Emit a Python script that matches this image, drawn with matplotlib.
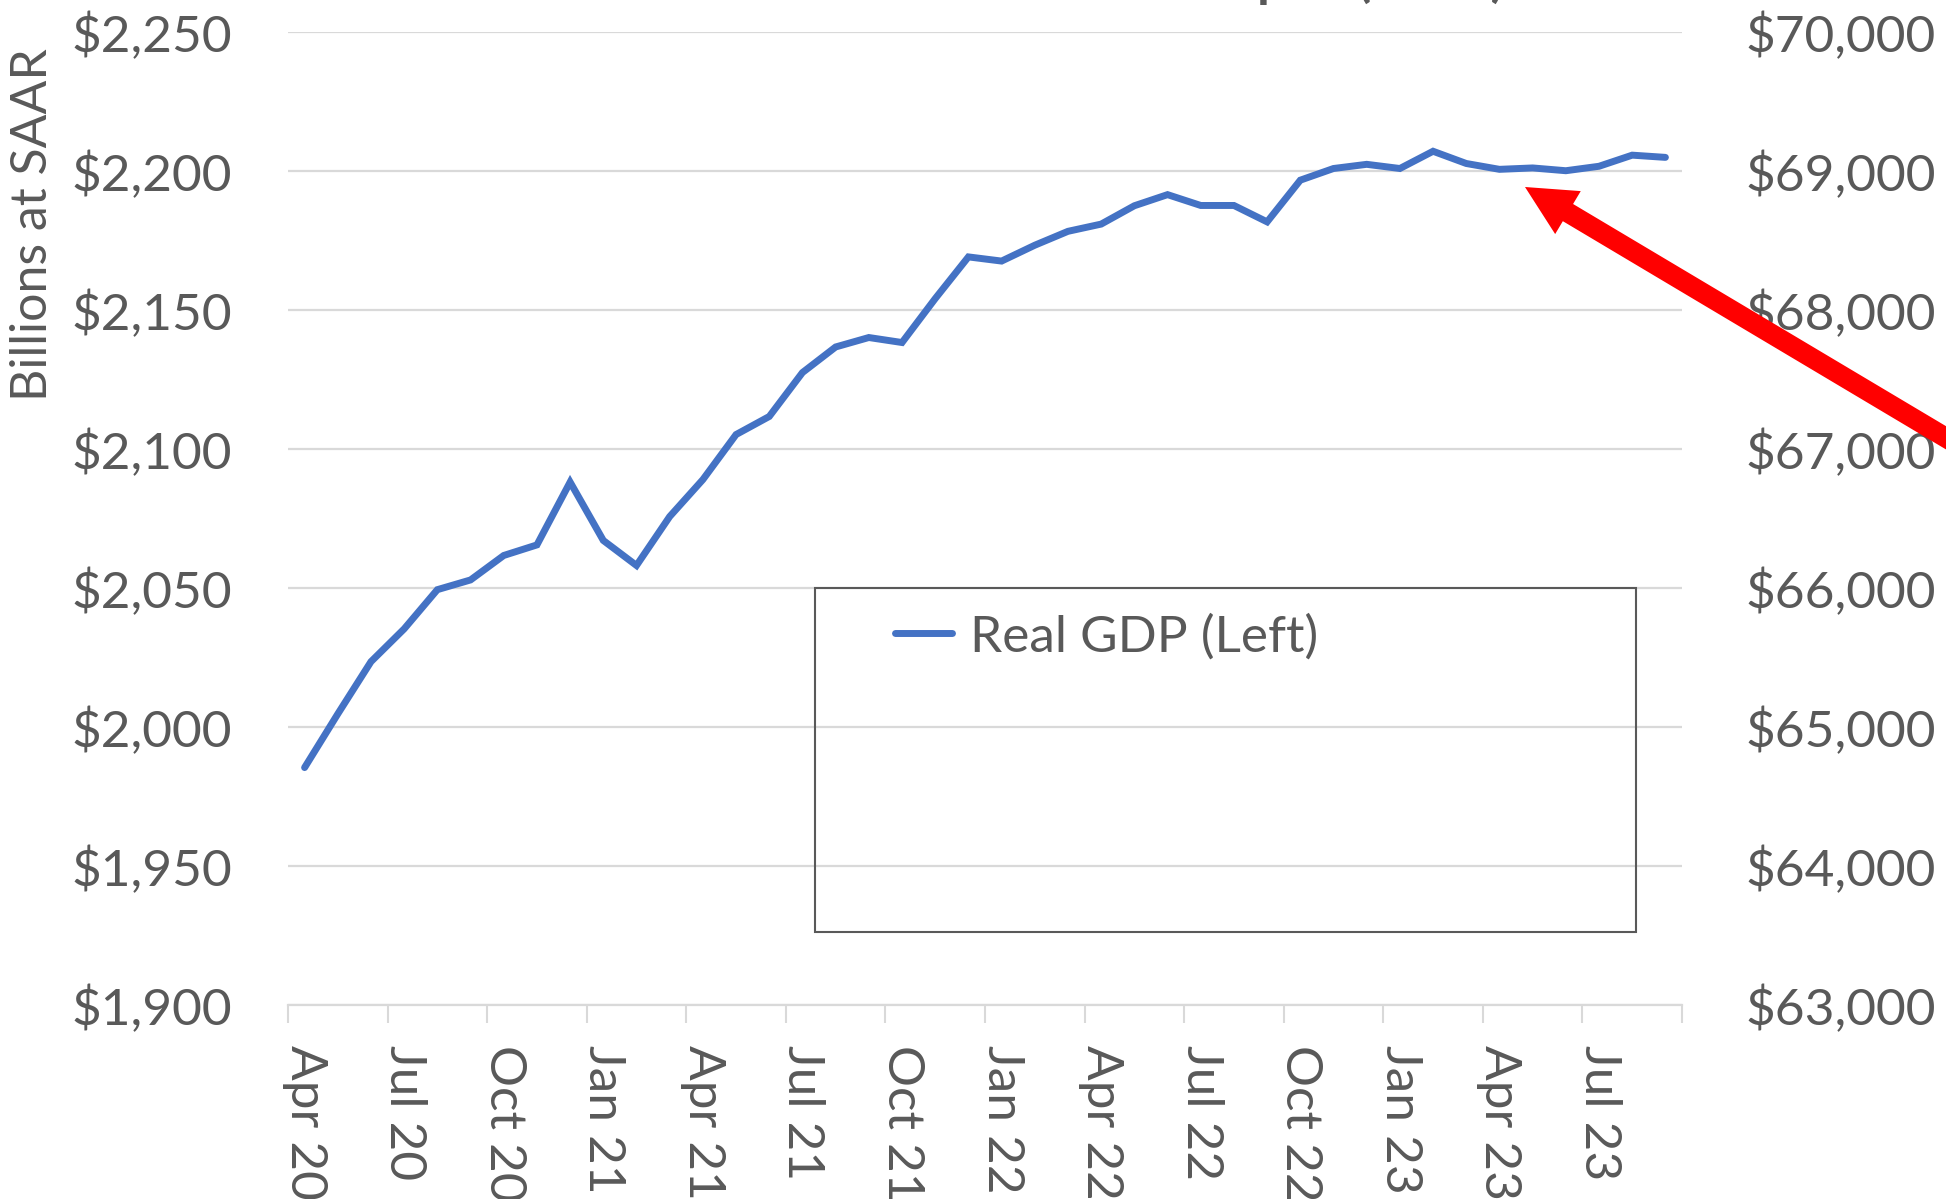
import numpy as np
import matplotlib
matplotlib.use('Agg')
from matplotlib import pyplot as plt
from matplotlib.patches import FancyArrow, Rectangle
from matplotlib.transforms import IdentityTransform
from matplotlib.ticker import FuncFormatter

# real GDP, billions at SAAR, monthly Apr 2020 - Sep 2023
gdp = [1985.4, 2004.7, 2023.5, 2035.3, 2049.4, 2052.9, 2061.7, 2065.5,
       2088.1, 2067.1, 2058.1, 2075.7, 2089.0, 2105.2, 2111.7, 2127.5,
       2136.7, 2140.1, 2138.3, 2154.1, 2169.1, 2167.6, 2173.3, 2178.3,
       2180.9, 2187.5, 2191.5, 2187.6, 2187.6, 2181.7, 2196.7, 2200.9,
       2202.4, 2200.9, 2207.1, 2202.7, 2200.6, 2201.1, 2200.1, 2201.7,
       2205.7, 2204.9]
tick_labels = ['Apr 20', 'Jul 20', 'Oct 20', 'Jan 21', 'Apr 21', 'Jul 21', 'Oct 21',
               'Jan 22', 'Apr 22', 'Jul 22', 'Oct 22', 'Jan 23', 'Apr 23', 'Jul 23']
left_ticks = [1900, 1950, 2000, 2050, 2100, 2150, 2200, 2250]
right_ticks = [63000, 64000, 65000, 66000, 67000, 68000, 69000, 70000]

plt.rcParams['font.family'] = ['Lato', 'DejaVu Sans']
grey = '#595959'
blue = '#4472C4'
grid = '#D9D9D9'
fs = 37

W, H = 1946, 1199
fig = plt.figure(figsize=(W / 100, H / 100), dpi=100)
ax = fig.add_axes([288 / W, 1 - 1005 / H, (1682 - 288) / W, (1005 - 32) / H])

xs = np.arange(len(gdp))
ax.plot(xs, gdp, color=blue, lw=5, solid_capstyle='round', solid_joinstyle='miter',
        label='Real GDP (Left)', zorder=3)

ax.set_xlim(-0.5, len(gdp) - 0.5)
ax.set_ylim(1900, 2250)
ax.set_yticks(left_ticks)
ax.yaxis.set_major_formatter(FuncFormatter(lambda v, p: '${:,.0f}'.format(v)))
ax.grid(axis='y', color=grid, lw=1.6)
ax.set_axisbelow(True)

# quarter boundaries get tick marks, labels sit on the middle of the month
ax.set_xticks(np.arange(-0.5, len(gdp), 3))
ax.set_xticklabels([])
ax.set_xticks(np.arange(0, len(gdp), 3), minor=True)
ax.set_xticklabels(tick_labels, minor=True, rotation=270, fontsize=fs, color=grey)
ax.tick_params(axis='x', which='major', length=13, width=1.5, color=grid)
ax.tick_params(axis='x', which='minor', length=0, pad=29)
ax.tick_params(axis='y', length=0, pad=40, labelsize=fs, labelcolor=grey)

for s in ['top', 'right', 'left']:
    ax.spines[s].set_visible(False)
ax.spines['bottom'].set_color(grid)
ax.spines['bottom'].set_linewidth(1.6)

ax2 = ax.twinx()
ax2.set_ylim(63000, 70000)
ax2.set_yticks(right_ticks)
ax2.yaxis.set_major_formatter(FuncFormatter(lambda v, p: '${:,.0f}'.format(v)))
ax2.tick_params(axis='y', length=0, pad=46, labelsize=fs, labelcolor=grey)
for s in ax2.spines.values():
    s.set_visible(False)

fig.text(33 / W, 1 - 225 / H, 'Billions at SAAR', rotation=90, ha='center', va='center',
         fontsize=fs - 1, color=grey)

# title is cut off at the top of the picture, only descenders show
fig.text(1505 / W, 1 + 4 / H, 'Real GDP and Real GDP Per Capita (2012)', ha='right',
         va='baseline', fontsize=fs, fontweight='bold', color=grey)

# legend box
fig.add_artist(Rectangle((815, H - 932), 1636 - 815, 932 - 588, fill=False,
                         edgecolor=grey, lw=1.5, transform=IdentityTransform()))
fig.legend(loc='center left', bbox_to_anchor=(895 / W, 1 - 637 / H), frameon=False,
           fontsize=fs, labelcolor=grey, handlelength=1.1, handletextpad=0.35,
           borderpad=0, borderaxespad=0)

# red arrow pointing at the flat part of the line
fig.add_artist(FancyArrow(1990, H - 464, -465, 277, width=20, head_width=50, head_length=50,
                          length_includes_head=True, color='#FF0000', lw=0,
                          transform=IdentityTransform()))

fig.savefig('out.png', dpi=100)
